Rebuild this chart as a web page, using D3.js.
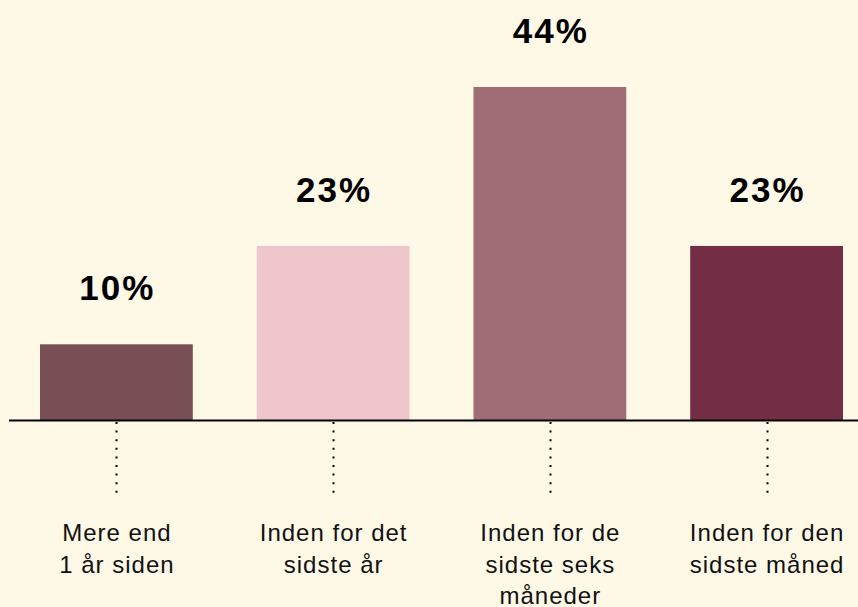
<!DOCTYPE html>
<html>
<head>
<meta charset="utf-8">
<script src="https://cdn.jsdelivr.net/npm/d3@7"></script>
<style>
	html, body { margin: 0; padding: 0; background: #fef8e7; }
	svg { display: block; }
</style>
</head>
<body>
<div id="chart"></div>
<script>
'use strict';

// data
const categories = [
	["Mere end", "1 år siden"],
	["Inden for det", "sidste år"],
	["Inden for de", "sidste seks", "måneder"],
	["Inden for den", "sidste måned"]
];
const values = [10, 23, 44, 23];
const barColors = ["#774f55", "#edc5cb", "#a06d76", "#732e46"];

const WIDTH = 858;
const HEIGHT = 607;
const BASELINE = 420;
const VALUE_FONT = "bold 35px 'Liberation Sans', Arial, sans-serif";
const VALUE_SPACING = 2;
const LABEL_FONT = "24px 'Liberation Sans', Arial, sans-serif";
const LABEL_SPACING = 1;
const LABEL_LINE = 31.5;

const svg = d3.select("#chart").append("svg")
	.attr("width", WIDTH)
	.attr("height", HEIGHT);

svg.append("rect")
	.attr("width", WIDTH)
	.attr("height", HEIGHT)
	.attr("fill", "#fef8e7");

const x = d3.scaleBand()
	.domain(d3.range(values.length))
	.range([40, 843])
	.paddingInner(0.295)
	.paddingOuter(0);

const y = d3.scaleLinear()
	.domain([0, 44])
	.range([BASELINE, 87]);

const cx = i => x(i) + x.bandwidth() / 2;

// bars
svg.append("g")
	.selectAll("rect")
	.data(values)
	.join("rect")
		.attr("x", (d, i) => x(i))
		.attr("y", d => y(d))
		.attr("width", x.bandwidth())
		.attr("height", d => BASELINE - y(d))
		.attr("fill", (d, i) => barColors[i]);

// value labels (letter-spacing adds trailing space, so nudge right by half)
svg.append("g")
	.selectAll("text")
	.data(values)
	.join("text")
		.attr("x", (d, i) => cx(i) + VALUE_SPACING / 2)
		.attr("y", d => y(d) - 44)
		.attr("text-anchor", "middle")
		.style("font", VALUE_FONT)
		.style("letter-spacing", `${VALUE_SPACING}px`)
		.attr("fill", "#000")
		.text(d => `${d}%`);

// baseline
svg.append("line")
	.attr("x1", 9)
	.attr("x2", WIDTH)
	.attr("y1", BASELINE + 0.5)
	.attr("y2", BASELINE + 0.5)
	.attr("stroke", "#000")
	.attr("stroke-width", 2);

// dotted leaders
svg.append("g")
	.selectAll("line")
	.data(values)
	.join("line")
		.attr("x1", (d, i) => Math.round(cx(i)) + 0.5)
		.attr("x2", (d, i) => Math.round(cx(i)) + 0.5)
		.attr("y1", 422)
		.attr("y2", 499)
		.attr("stroke", "#000")
		.attr("stroke-width", 2)
		.attr("stroke-dasharray", "2,6.6");

// category labels
const labels = svg.append("g")
	.selectAll("text")
	.data(categories)
	.join("text")
		.attr("y", 541)
		.attr("text-anchor", "middle")
		.style("font", LABEL_FONT)
		.style("letter-spacing", `${LABEL_SPACING}px`)
		.attr("fill", "#111");

labels.each(function(lines, i) {
	d3.select(this).selectAll("tspan")
		.data(lines)
		.join("tspan")
			.attr("x", cx(i) + LABEL_SPACING / 2)
			.attr("dy", (l, j) => j === 0 ? 0 : LABEL_LINE)
			.text(l => l);
});
</script>
</body>
</html>
